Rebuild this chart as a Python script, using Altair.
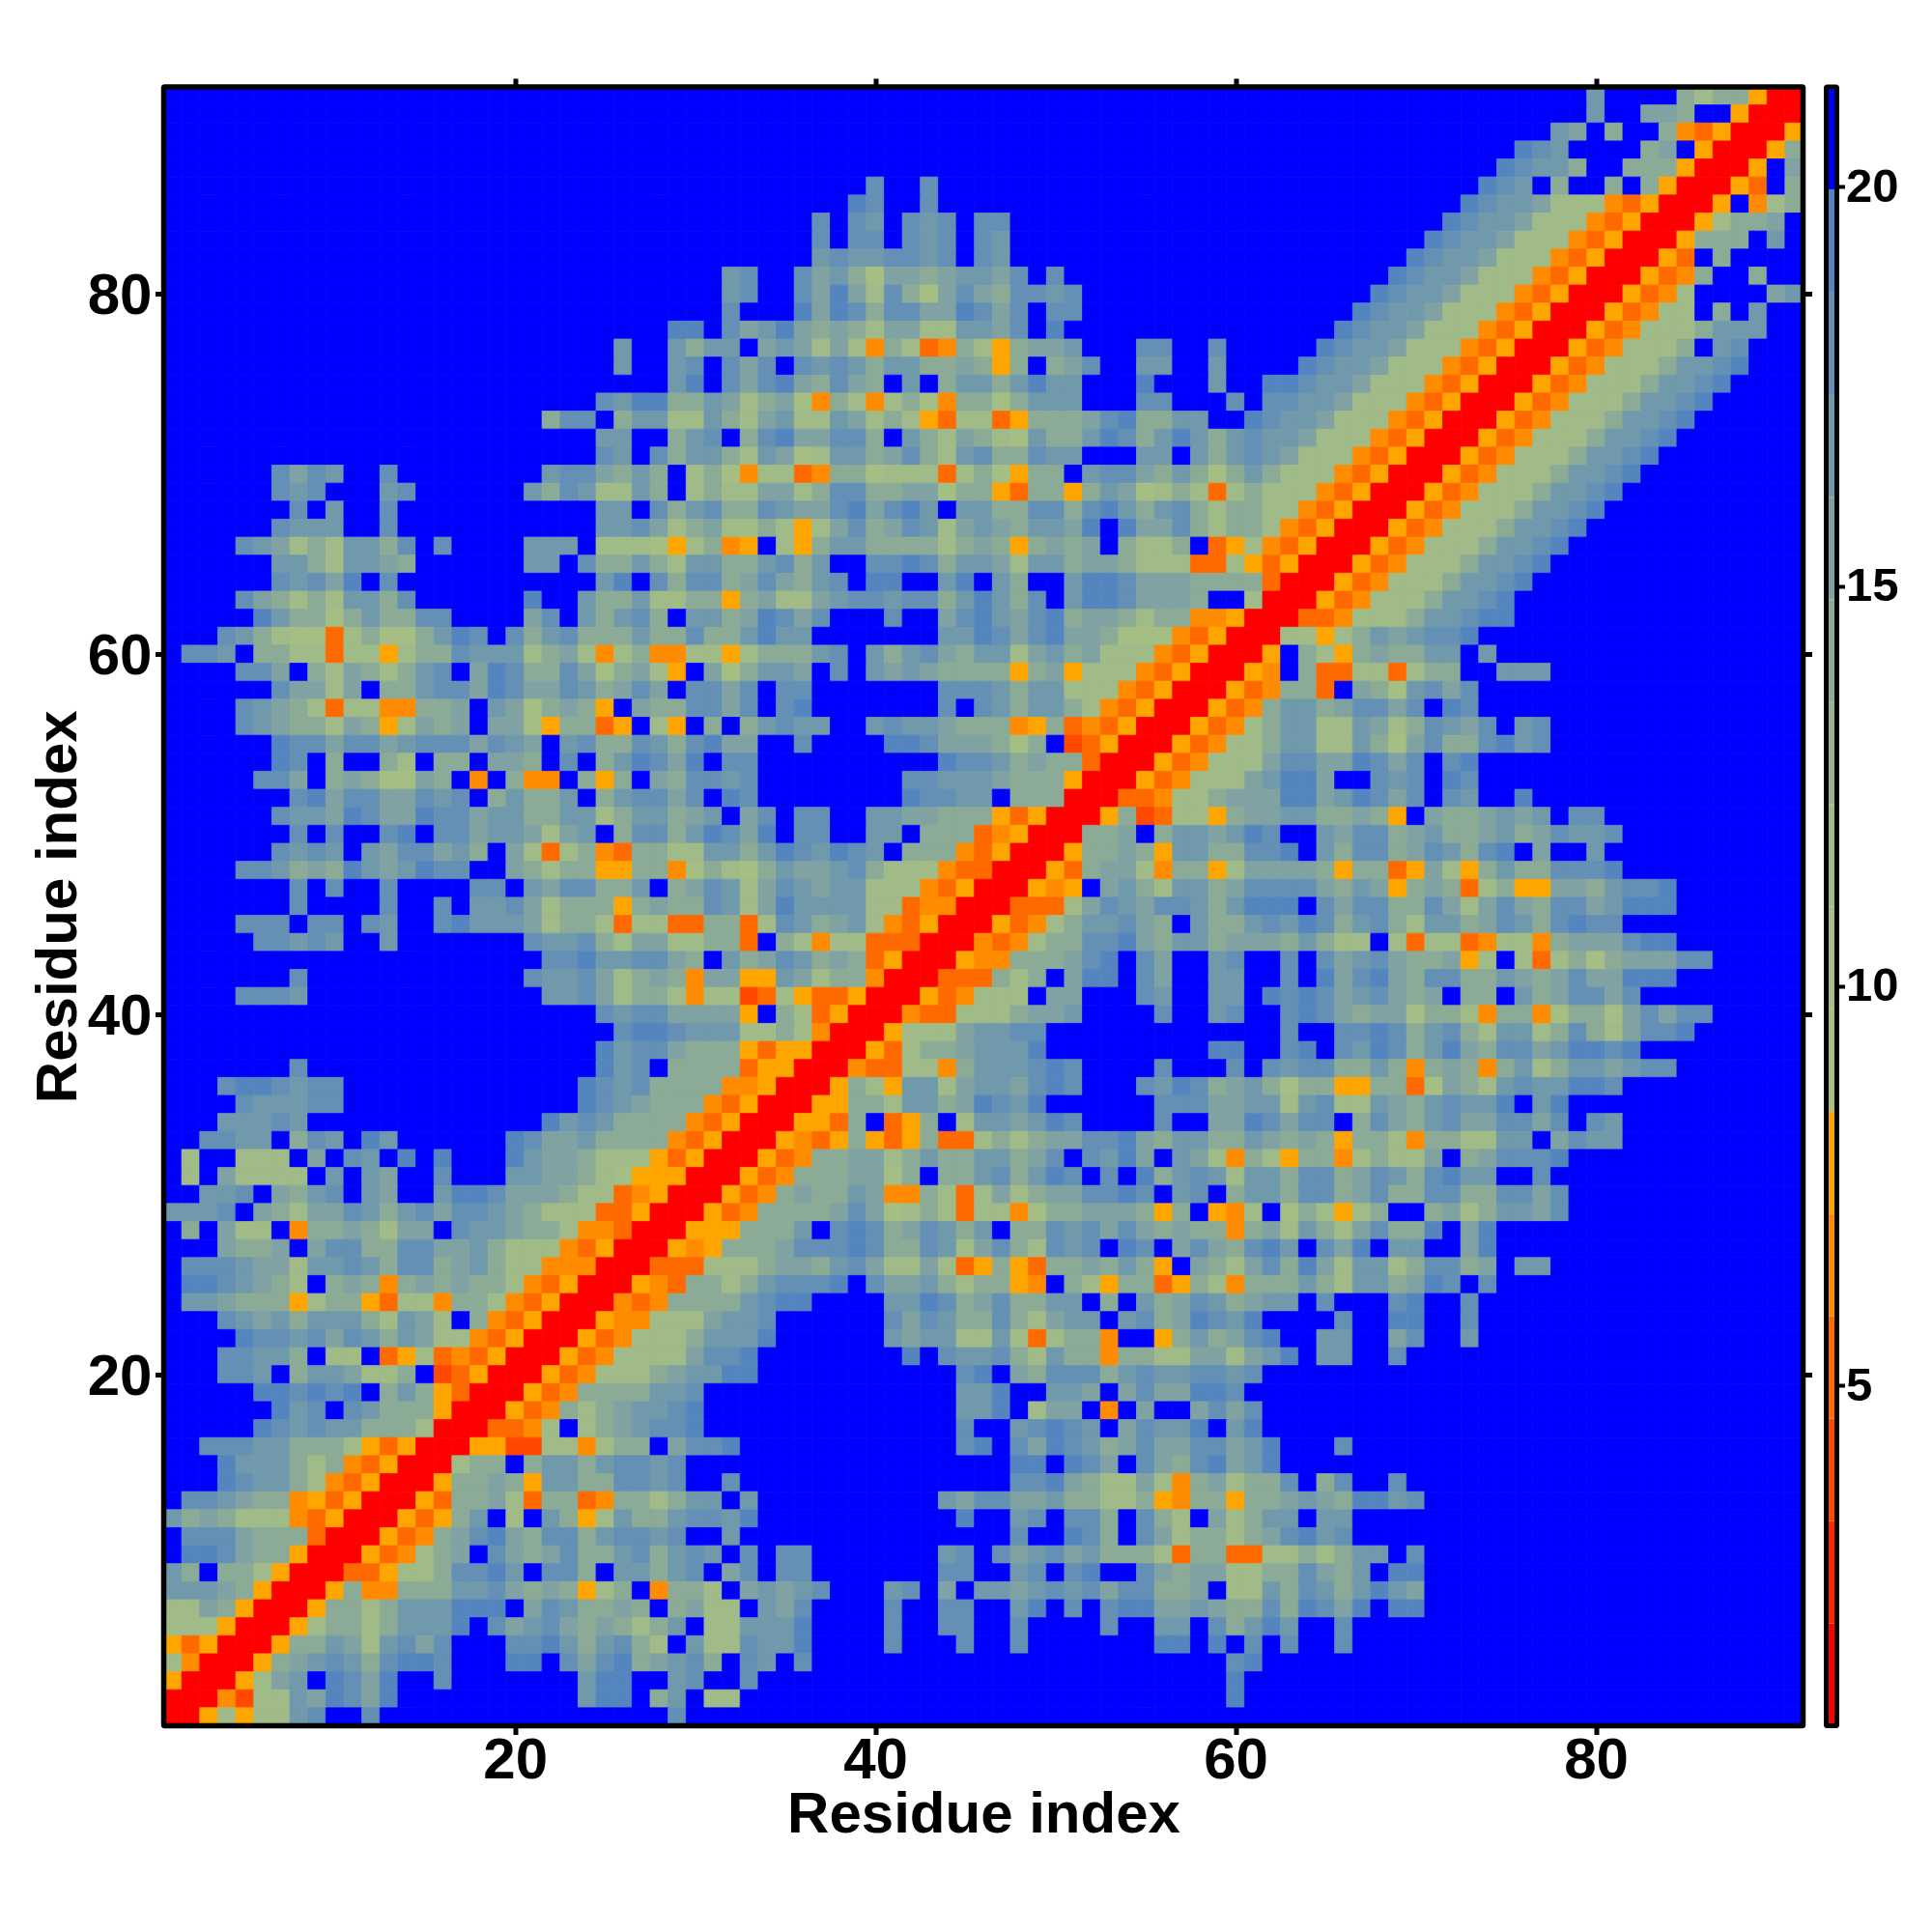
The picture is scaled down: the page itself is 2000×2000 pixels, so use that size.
import altair as alt
import pandas as pd

alt.data_transformers.disable_max_rows()

# One string per row, top row (residue 91) first; groups of ten columns. "_" = ten blue cells.
ROWS = """
_ _ _ _ _ _ _ .........c ....a8aa50 0
_ _ _ _ _ _ _ .........c ..bba..500 0
_ _ _ _ _ _ _ .......cb. a..a435000 5
_ _ _ _ _ _ _ .....edc.. ..ab.50005 a
_ _ _ _ _ _ _ ....edcca. .aaa50005. b
_ _ _ .........d ..d....... _ _ ...edc.a.. a.a500053. a
_ _ _ ........ed ..d....... _ _ ..edccb888 4350005.48 a
_ _ _ ......d.dc .dcd.dd... _ _ .edccb8884 3500058aab .
_ _ _ ......d.dd .dcd.dc... _ _ edccb88843 50005aaa.c .
_ _ _ ......cdcc ddcd.dc... _ .........e dccb888435 00053.a... .
_ _ _ .cd..dbca7 bbabccbd.d _ ........ed ccb8884350 00534a..a. .
_ _ _ .cd..dbeb8 da7bdbaddc d......... .......edc cb88843500 05348....b c
_ _ _ .d...ebeda ddbbedbd.d d......... ......edcc b888435000 53488.a.c. .
_ _ ........ee .dbcebaba8 bb88ccbd.e _ .....edccb 8884350005 34888accc. .
_ _ .....c..ca cc.bcb8b84 a834a85abb c...dd..d. ....edccb8 8843500053 4888a.cd.. .
_ _ .....c..cd .dbd.dcdca ccaaba5a.a bd..cc..c. ...edccb88 8435000534 888accde.. .
_ _ ........ce .dbdebadba .c.accacec c...e...c. .eedccb888 4350005348 88accde... .
_ _ ....dceeaa cb8ab74a84 8a74aa7acc c...dd...d .ddccb8884 3500053488 8accde.... .
_ _ .add.acc88 ca8bc88cb8 a8538835aa abdeaacc.. edccb88843 5000534888 accde..... .
_ _ ....cc..ac d.adebbdda .ca8ba87ca acedacecac dccb888435 000534888a ccde...... .
_ _ ....dc.dac ca8cb78cca bda8cdaadc c...cc.cac dcb8884350 00534888ac cde....... .
......dbdc ..d....... .cddbaca.8 a748834aa7 88838a75aa .cddbaca7a ca88843500 0534888acc de........ .
......dcd. ..cd...... cadc88ca.8 a88bb8adda abb7aa53aa 5acb78a838 a888435000 534888accd e......... .
.......d.c ..d....... ....cc.dac daadcbbdeb dec.ccaadd adecacda8a a884350005 34888accde _ .
......dccc ..d....... ....ccdb8a b88a858bda bdc8bcbacc be.ebbda8a a843500053 4888accde. _ .
....dcb8a8 ccad.d.... ccc.888758 a45.85acca aaa8aba5ab ab.a88a.35 8435000534 888accde.. _ .
......cca8 ccba...... cc.daaca8c caacdac..d dedaccb8cc abba888338 5350005348 88accde... _ .
......dcdb e.d....... ....ce.dad dabdbacd.e e..ce.ca.. ceedbbbaaa a300053488 8accde.... _ .
....dba8a8 ccad...... e..caac88a a5ab88bcdd cddacecad. ceedbbba.. 8000534888 accde..... _ .
.....ecaa7 acaadd.... bd.cacda.c cabedbd... d..bdecbde abba8aa445 000334888a ccdee..... _ .
...dca8773 8a77aced.d acdaaacaad aacecc.... ...ccedbde bba7774350 008858acbc dde....... _ .
.ddc.aa883 8858aadccc 8ab848a448 858aaacd.c acdbacc8bc ab88843500 05.a85abaa cc.c...... _ .
....ddb.a8 ba8acd.bed aadb7ab85. b7accb.d.c bcbaaaa5ab 5888435000 54.a338838 aa..ccc... _ .
......dbb8 b.aacddbed bbdcabdb.d dbd.dd.... ...dddcacc 8884350005 34aa3.ba7c dbd....... _ .
....dcba83 8844aab.cb 7aba5.baad dbd.de.... ...d.dcacc a843500053 4accabddbd .ed....... _ .
....dcbaa8 ba58bab.bb 75aa35.85. a.acdcc..c dccbaaa45a 3435000534 8acc88cb8a dcbd.cd... _ .
......eddb ddbcdddbdc b.cdaadcad ebb..d.... eedbbba7a. 2350005348 8acc88ca7b daadecd... _ .
......ed.a ..a8.aa.bb a.d.acedbe .dd....... ...eddcaba a300053488 8bddbbedbd .de....... _ .
.....ddb.a ba77ba.4.a 44.a5a.bad dcd....... .ddcccbaaa 5000534888 bceeb..dcd .ed....... _ .
.......deb ddbbdcd.ac aac.acddbd .ed....... .eddcc.aaa 00033488ab bbeebcedbd .dc..e.... _ .
......dccb edbbeddbcc aacc8accab c.bd.dd..c cbbaaa5350 005a23885a bbccaaba5. baabcbc.dd _ .
.......d.d ..de.ddbcc b8bc.addac edbe.dd..c c.aaa34500 0aab.accbc ed..cbddab caabcabdcc d......... .
......dcdc .cbddbca.b 838a43aa88 ccacedcedc .aaa435000 5aaba5ccaa dde.caddab dcade.b..c _ .
....ddcaba ecbcedd..b a8aa55aa47 a87acbbcda 8884330005 3abb84aa58 bbbba5aa35 b85acaaddd e......... .
.......d.d ..d....dd. cbddaac.ab dc8bdcbcc8 8843500054 5.bca8ccab ddddbacb5a ba38a55bba cdde...... .
.......d.. ..d..d.ccd b8aaa5abaa dc8becccc8 8344000333 8bdcbddcac eee.dbddaa db8bdbaddb ceee...... .
....ddd.dd .dc..deccc b8aa838833 aa38dcabc8 4350005348 accdba.caa cdcedacda8 ccabdcaded d......... .
.....ddcdc ..c....... dccda8bb88 aa3.a84883 330004348a addebaccab bbaca88.83 8834884abb bdee...... .
_ _ .ddeccddba .cabdcaba3 5000544aaa bde.db..cd ..d.dbcdba ab58.838a7 abbbdd.... .
.......d.. _ dccdb8aba4 bb55cb8aa4 000333a8a. bee.db..cc ..d.ebdeba ddaacbabdb beee...... .
....dddc.. _ .ccdb8aa84 8823853350 00534888.b b...dc..cc .ededbcdba b.aa.cabdd bd........ .
_ _ ....dcddbb bb5.a83500 0433888abb c....d..cd ..dedbabb7 aa84aa47aa 7bdbdd.... .
_ _ .....deedc cc88a84000 5888bccdd. _ ..d..ddeda cda8cc8ada 8bdde..... .
_ _ ....ecddba aa53550005 38aabccce. ........ee ..de.dceda cebaddbcee de........ .
.......d.. _ ....ecd.aa aa35500043 3884acccde d....d...d .dcddaaca4 aba4ac8acc bcdd...... .
...deedcdd _ ...edcdaaa a4450005a8 5cc8bccbde d...dcedab ca7aa55aa3 7ba8cdccee d......... .
....dcccdd _ ...edcbaaa 43500055aa 8ccabedce. .....dddbb cc8cd88cba cdcce.ce.. _ .
...cccdc.. _ .ecdcaaaa4 35000553a. 35a.8ccbce d....d..bb edbdd.adba cdbbddbd.d c......... .
..ddcc.adc .ec......e dbbcaaaa43 50005435a5 35a338a8ab bddebaccaa cbaba5aa84 aa88cc.bdc c......... .
.8..888.b. dc.e.e...e cbba888535 000534aabb 8acaaccabd .dceb.cb84 a85aa48a88 b.abddde.. _ .
.8.b8888.c .cb..d...c cbba875550 00534aaabb 7a.aacdace d.d.eacdc8 ccaddabdca decc..d... _ .
..ccd.bacd .cb..ceedb bba8834500 0534abaacb 44a838b8ab bdded.cd.a ccaddabdaa ddaaddbd.. _ .
cccd.ba8bb dcacdbddcb a888335000 534aaaabdb 78a838847a abbba5a.54 8.7a858a.. ab8accbd.. _ .
.a.b88.4aa ba8bb.dccb aa84430005 55aaac.ded abdcac.aad cdbdbabaa4 ab8ca8bdaa e.be...... _ .
...baab.bd daaddbbca8 8843500054 5aaabddded aadc8bda8d cd.ed.bdba dec.dbe.cc ..be...... _ .
.dddcbb8cc dcaddabca8 8444000333 888abbacdb 88b835a53a abaca5.ba8 bdaeb8cc8a ddab.cc... _ .
.eedcba8.a ba4ababaa8 435000543a a8acddde.d bbca8aa54. a85aa35a84 aaaca8ccab ed.d...... _ .
.ccbaaa58a a53884aa84 35000434aa aacdee.... ccedabdaac c.a.cabdca bcc.d...de ..d....... _ .
...dcbcacc ca8cb8.a43 5000544888 bccd...... dbdcaada8b cc.cdabedc e....d..ee ..d....... _ .
....eddcdb dcacb88435 000534888a ccce...... cbcc88c838 aa4..5acab de..cc..bd ..c....... _ .
...ddcca.8 8.35834350 005348888b dde....... .e.dccda8c aa4aa88bb8 bce.cc..d. _ _ .
...ddc.acc b88a.23500 0534888abc cee....... ....de.bad ddacdccddc d......... _ _ .
.....eeded e.aca53000 534aaaaccd _ ....cce..c cb.bdbbeed _ _ _ .
......ecd. dcaaa50005 34a8abccde _ ....cce.8b b.4.b..bdb d......... _ _ .
.....edcdc caaa800033 48.8abcdde _ ....d..cde dc.bdcce.c e......... _ _ .
..dddccaaa 8535000552 28848aa.bd de........ ....de.dbe dcabdbbddb ce...d.... _ _ .
...eccca8a 4350008aa. accacddcd. _ .......ee. edb.dbadeb ce........ _ _ .
...edcca84 350005aaba 5ccaaddcd. .d........ .......dde ba88b84ab8 aad.ad..d. _ _ .
.ddcbaa453 500053aab8 3aa34aa8ac c.c....... ...cbddbbc aa88a54aa5 aabcbaeecd _ _ .
caba888435 000535ac.8 .ca58caacd dce....... ....e..cd. dda.da8.b8 acc.cc.... _ _ .
.dddbaaa30 00534abdeb addacddcd. .c........ .......d.. eda.db8aa8 abdecd.... _ _ .
.eedbaa500 05348ab.db abdaacdacd c.d.dd.... ...cd.dbcd bcaaa83aa3 388a8acc.d _ _ .
ca.aa85000 33588addec .dda.ccacd .bd.dd.... ...dd..cd. de..dbabb8 8aadbac.ee _ _ .
cccba50005 a44aaaccdb aba58a.4aa 8.bcbcd... cd.b.ccbcd cdbddaab.8 8cadcacecb _ _ .
88ba50005a a8accceee. bdcaaba.ab 88.cbd.... d..dd..ce. d.deebbcba adaedbe.ee _ _ .
888500058a a8accce.db cdbaba8ac. 88ccce.... d..dd..d.. ..d..cc.da cec..d.... _ _ .
5350005aac b8cdbd...d decacda8.c 88dcce.... d...d..d.. .....ee.e. d.d..d.... _ _ .
840005abcd cadeed...e e.dbdeabcd a.dc.d.... _ .........d e......... _ _ .
500058bc.e dbe..d.... ...cee..cd ..d....... _ .........e _ _ _ .
0004288cbe dbe....... ...cee.ac. 88........ _ .........e _ _ _ .
0058588cd. .d........ ........d. _ _ _ _ _ _ .
""".strip().split("\n")

CLASS_CHARS = "0123456789abcde."
PALETTE = ["#ff0000", "#ff2400", "#ff4800", "#ff6a00", "#ff8c00", "#ffa500",
           "#a9c17f", "#a5be84", "#a0ba88", "#98b390", "#8cab96", "#80a2a2",
           "#7099ac", "#6390b4", "#5585bf", "#0000ff"]
VMIN, VMAX = 0.74, 21.25
TICKS_MAIN = [20, 40, 60, 80]
TICKS_BAR = [5, 10, 15, 20]
N = 91
TITLE = "Residue index"
FONT = "Liberation Sans"

bad = []
decoded = []
for r, row in enumerate(ROWS):
    gs = row.split()
    out = ""
    for k, g in enumerate(gs):
        if g == "_":
            g = "." * 10
        if len(g) != (1 if k == 9 else 10):
            bad.append((r, k, g))
        out += g
    if len(gs) != 10:
        bad.append((r, "groups", len(gs)))
    decoded.append(out)
if bad or len(ROWS) != N:
    raise SystemExit(f"bad rows {len(ROWS)}: {bad}")

w = (VMAX - VMIN) / 16
records = []
for i, row in enumerate(decoded):
    res_y = N - i
    for j, ch in enumerate(row):
        records.append({"x0": j + 0.5, "x1": j + 1.5, "y0": res_y - 0.5, "y1": res_y + 0.5,
                        "v": VMIN + (CLASS_CHARS.index(ch) + 0.5) * w})
df = pd.DataFrame(records)

color_scale = alt.Scale(type="quantize", domain=[VMIN, VMAX], range=PALETTE, nice=False)
xs = alt.Scale(domain=[0.5, N + 0.5], nice=False, zero=False)
ys = alt.Scale(domain=[0.5, N + 0.5], nice=False, zero=False)

tick_common = dict(domain=False, grid=False, tickColor="black", tickWidth=5, tickSize=9,
                   values=TICKS_MAIN, format="d")
lab_common = dict(labelFont=FONT, labelFontWeight="bold", labelFontSize=60, labelColor="black",
                  titleFont=FONT, titleFontWeight="bold", titleFontSize=60, titleColor="black")

heat = alt.Chart(df).mark_rect(strokeWidth=0.8).encode(
    x=alt.X("x0:Q", scale=xs, title=TITLE,
            axis=alt.Axis(orient="bottom", labelPadding=-2, titlePadding=-3, labelAngle=0,
                          **tick_common, **lab_common)),
    x2="x1:Q",
    y=alt.Y("y0:Q", scale=ys, title=TITLE,
            axis=alt.Axis(orient="left", labelPadding=3.5, titlePadding=-1.5, labelOffset=2.5,
                          **tick_common, **lab_common)),
    y2="y1:Q",
    color=alt.Color("v:Q", scale=color_scale, legend=None),
    stroke=alt.Stroke("v:Q", scale=color_scale, legend=None),
)

frame_df = pd.DataFrame({"lo": [0.5], "hi": [N + 0.5]})
frame = alt.Chart(frame_df).mark_rect(fillOpacity=0, stroke="black", strokeWidth=5.5,
                                      cornerRadius=1).encode(
    x=alt.X("lo:Q", scale=xs, title=None,
            axis=alt.Axis(orient="top", labels=False, **tick_common)),
    x2="hi:Q",
    y=alt.Y("lo:Q", scale=ys, title=None,
            axis=alt.Axis(orient="right", labels=False, **tick_common)),
    y2="hi:Q",
)

main = alt.layer(heat, frame).resolve_axis(x="independent", y="independent").properties(
    width=1697, height=1696.5)

bar_df = pd.DataFrame({"lo": [VMIN + k * w for k in range(16)],
                       "hi": [VMIN + (k + 1) * w for k in range(16)],
                       "mid": [VMIN + (k + 0.5) * w for k in range(16)]})
bs = alt.Scale(domain=[VMIN, VMAX], nice=False, zero=False)
bar = alt.Chart(bar_df).mark_rect().encode(
    x=alt.value(0), x2=alt.value(11),
    y=alt.Y("lo:Q", scale=bs, title=None,
            axis=alt.Axis(orient="right", values=TICKS_BAR, domain=False, grid=False,
                          tickColor="black", tickWidth=4, tickSize=8, labelPadding=1,
                          labelFont=FONT, labelFontWeight="bold", labelFontSize=49,
                          labelColor="black", format="d")),
    y2="hi:Q",
    color=alt.Color("mid:Q", scale=color_scale, legend=None),
)
bar_frame_df = pd.DataFrame({"lo": [VMIN], "hi": [VMAX]})
bar_frame = alt.Chart(bar_frame_df).mark_rect(fillOpacity=0, stroke="black", strokeWidth=5,
                                              cornerRadius=1).encode(
    x=alt.value(0), x2=alt.value(11),
    y=alt.Y("lo:Q", scale=bs, title=None),
    y2="hi:Q",
)
cbar = alt.layer(bar, bar_frame).properties(width=11, height=1696.5)

chart = alt.hconcat(main, cbar, spacing=9).resolve_scale(color="independent", stroke="independent").configure_view(
    stroke=None
).properties(padding={"left": 22.5, "top": 70, "right": 5, "bottom": 5}, background="white")

chart.save("out.html", embed_options={"renderer": "svg", "actions": False})
